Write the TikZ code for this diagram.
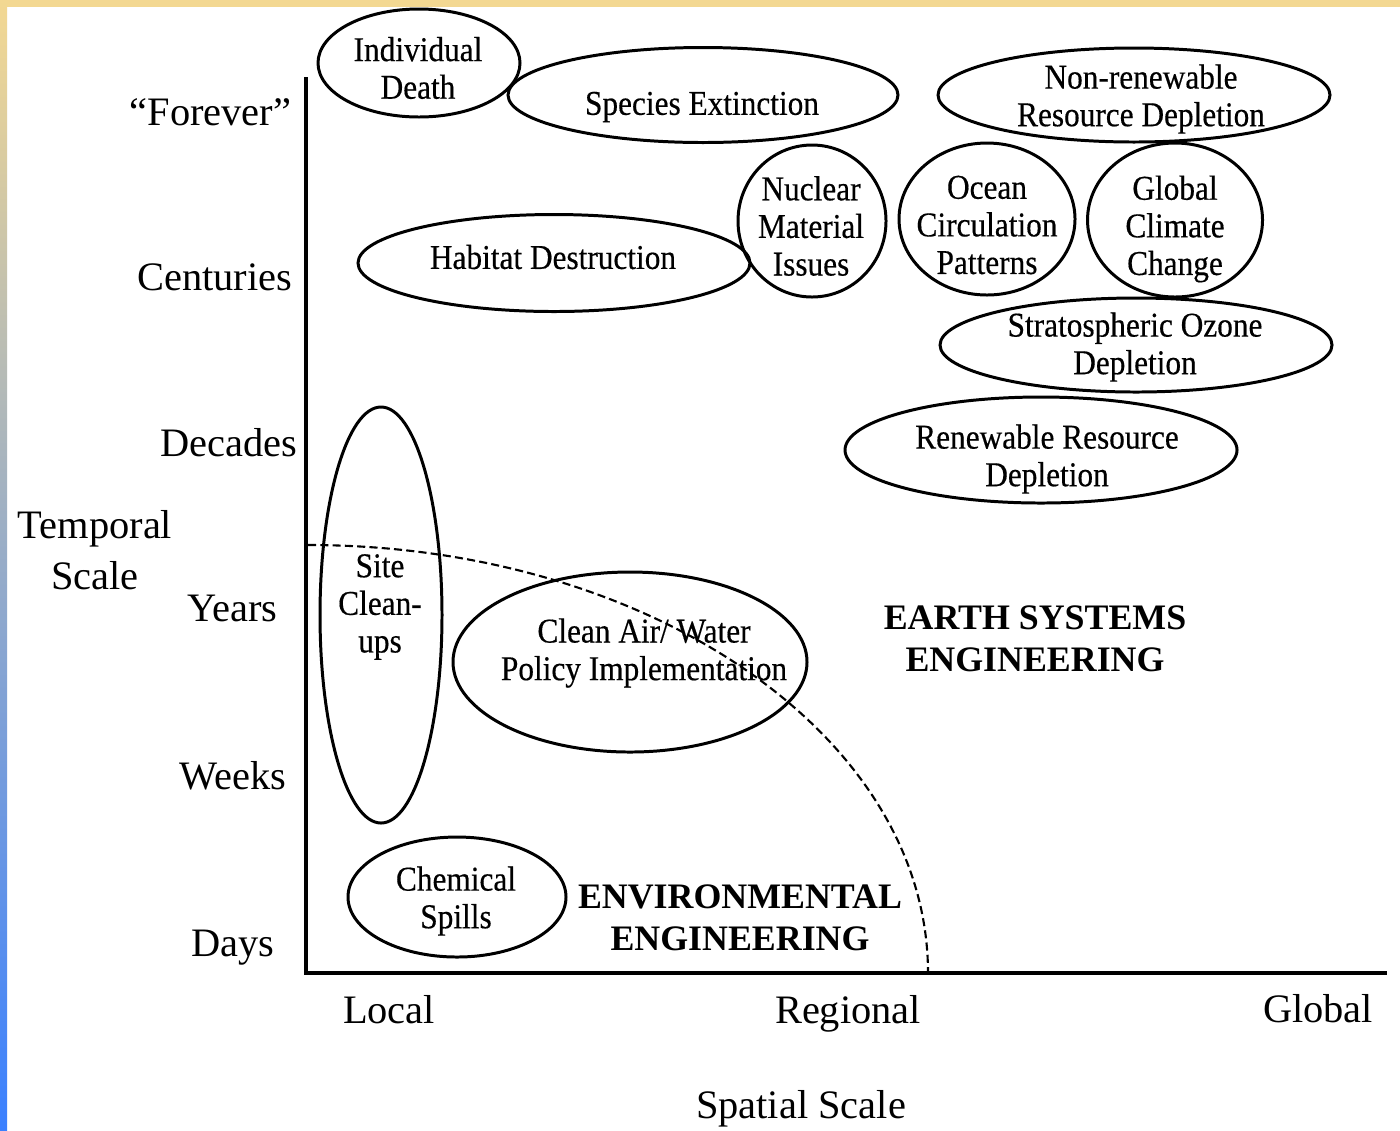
\documentclass[tikz,border=0pt]{standalone}
\usepackage{fontspec}
\setmainfont{Liberation Serif}
\newfontfamily\tagfont{Liberation Serif}[FakeStretch=0.9, FakeBold=0.4]
\definecolor{bandyellow}{RGB}{243,216,146}
\definecolor{bandblue}{RGB}{58,128,255}
\begin{document}
\begin{tikzpicture}[x=0.1mm, y=-0.1mm,
    blob/.style={line width=0.85pt},
    tag/.style={align=center, inner sep=0pt, font=\tagfont\fontsize{9.9}{10.7}\selectfont},
    scalelab/.style={inner sep=0pt, font=\fontsize{11.5}{14.4}\selectfont},
    field/.style={align=center, inner sep=0pt, font=\bfseries\fontsize{10.2}{12}\selectfont}]
    % frame
    \useasboundingbox (0,0) rectangle (1400,1130);
    \fill[white] (0,0) rectangle (1400,1130);
    \fill[bandyellow] (0,0) rectangle (1400,7);
    \shade[top color=bandyellow, bottom color=bandblue] (0,0) rectangle (7,1130);

    % axes
    \draw[line width=1.1pt] (306,77) -- (306,973) -- (1387,973);
    \draw[line width=0.6pt, dash pattern=on 2.3pt off 1.2pt] (308,545) arc[start angle=90, end angle=0, x radius=62mm, y radius=42.8mm];

    % time scale
    \node[scalelab, anchor=base east] (forever) at (292,125) {“Forever”};
    \node[scalelab, anchor=base east] (centuries) at (293,290) {Centuries};
    \node[scalelab, anchor=base east] (decades) at (298,456) {Decades};
    \node[scalelab, anchor=base east] (years) at (278,621) {Years};
    \node[scalelab, anchor=base east] (weeks) at (287,789) {Weeks};
    \node[scalelab, anchor=base east] (days) at (275,956) {Days};
    \node[scalelab, align=center] (temporal) at (95,550) {Temporal\\Scale};

    % space scale
    \node[scalelab, anchor=base] (local) at (389,1023) {Local};
    \node[scalelab, anchor=base] (regional) at (848,1023) {Regional};
    \node[scalelab, anchor=base] (global) at (1318,1022) {Global};
    \node[scalelab, anchor=base] (spatial) at (801,1118) {Spatial Scale};

    % ellipses
    \draw[blob] (419,63) ellipse [x radius=10.1mm, y radius=5.4mm];
    \node[tag] (death) at (418,68) {Individual\\Death};
    \draw[blob] (703,95) ellipse [x radius=19.5mm, y radius=4.75mm];
    \node[tag] (extinction) at (702,107) {Species Extinction};
    \draw[blob] (1134,95) ellipse [x radius=19.6mm, y radius=4.7mm];
    \node[tag] (nonrenew) at (1141,99) {Non-renewable\\Resource Depletion};
    \draw[blob] (812,221) ellipse [x radius=7.4mm, y radius=7.6mm];
    \node[tag] (nuclear) at (811,226) {Nuclear\\Material\\Issues};
    \draw[blob] (987,219) ellipse [x radius=8.8mm, y radius=7.6mm];
    \node[tag] (ocean) at (987,225) {Ocean\\Circulation\\Patterns};
    \draw[blob] (1175,220) ellipse [x radius=8.75mm, y radius=7.7mm];
    \node[tag] (climate) at (1175,229) {Global\\Climate\\Change};
    \draw[blob] (554,263) ellipse [x radius=19.6mm, y radius=4.85mm];
    \node[tag] (habitat) at (553,257) {Habitat Destruction};
    \draw[blob] (1136,345) ellipse [x radius=19.6mm, y radius=4.7mm];
    \node[tag] (ozone) at (1135,347) {Stratospheric Ozone\\Depletion};
    \draw[blob] (1041,450) ellipse [x radius=19.6mm, y radius=5.3mm];
    \node[tag] (renew) at (1047,459) {Renewable Resource\\Depletion};
    \draw[blob] (381,615) ellipse [x radius=6.1mm, y radius=20.8mm];
    \node[tag] (cleanup) at (380,607) {Site\\Clean-\\ups};
    \draw[blob] (630,662) ellipse [x radius=17.7mm, y radius=9mm];
    \node[tag] (cleanair) at (644,653) {Clean Air/ Water\\Policy Implementation};
    \draw[blob] (457,897) ellipse [x radius=10.9mm, y radius=6mm];
    \node[tag] (spills) at (456,901) {Chemical\\Spills};

    % fields
    \node[field] (envfield) at (740,918) {ENVIRONMENTAL\\ENGINEERING};
    \node[field] (earthfield) at (1035,639) {EARTH SYSTEMS\\ENGINEERING};
\end{tikzpicture}
\end{document}
